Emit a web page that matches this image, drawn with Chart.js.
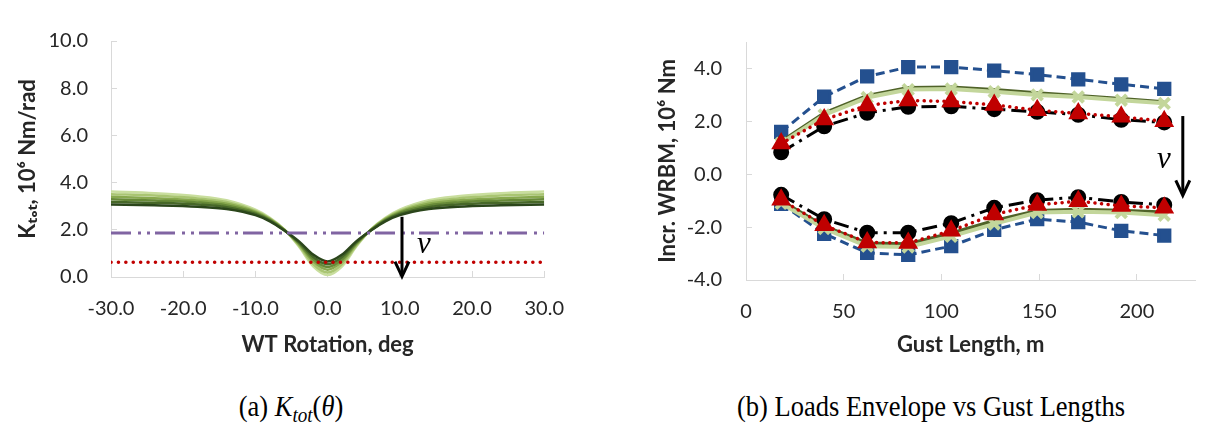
<!DOCTYPE html>
<html>
<head>
<meta charset="utf-8">
<script src="https://cdn.jsdelivr.net/npm/chart.js@4.4.1/dist/chart.umd.min.js"></script>
<style>
  body { margin: 0; background: #fff; width: 1207px; height: 444px; position: relative; overflow: hidden; }
  .panel { position: absolute; top: 0; height: 370px; }
  #left { left: 0; width: 590px; }
  #right { left: 600px; width: 607px; }
  .caption {
    position: absolute; top: 392px; transform: translateX(-50%) scale(1.02, 1.15);
    font-family: "Liberation Serif", "Times New Roman", serif; font-size: 26px; color: #000; white-space: nowrap;
  }
  .caption sub { font-size: 0.72em; vertical-align: -0.3em; }
</style>
</head>
<body>
<div class="panel" id="left"><canvas id="ktot"></canvas></div>
<div class="panel" id="right"><canvas id="wrbm"></canvas></div>
<div class="caption" style="left:291px">(a) <i>K</i><sub><i>tot</i></sub>(<i>θ</i>)</div>
<div class="caption" style="left:931px">(b) Loads Envelope vs Gust Lengths</div>

<script>
// ---- (a) K_tot(theta) ----
const thetaDeg = [-30, -24, -18, -14, -10, -8, -6, -4, -2, 0, 2, 4, 6, 8, 10, 14, 18, 24, 30];
// one curve per nu value, darkest first
const ktotA = [3.07, 3.04, 2.98, 2.88, 2.62, 2.36, 1.97, 1.52, 0.95, 0.66, 0.95, 1.52, 1.97, 2.36, 2.62, 2.88, 2.98, 3.04, 3.07];
const ktotB = [3.18, 3.14, 3.07, 2.96, 2.67, 2.39, 1.98, 1.48, 0.85, 0.54, 0.85, 1.48, 1.98, 2.39, 2.67, 2.96, 3.07, 3.14, 3.18];
const ktotC = [3.29, 3.24, 3.16, 3.03, 2.72, 2.42, 1.99, 1.44, 0.75, 0.42, 0.75, 1.44, 1.99, 2.42, 2.72, 3.03, 3.16, 3.24, 3.29];
const ktotD = [3.40, 3.34, 3.24, 3.10, 2.76, 2.45, 2.00, 1.40, 0.66, 0.31, 0.66, 1.40, 2.00, 2.45, 2.76, 3.10, 3.24, 3.34, 3.40];
const ktotE = [3.51, 3.45, 3.33, 3.18, 2.80, 2.48, 2.01, 1.35, 0.55, 0.19, 0.55, 1.35, 2.01, 2.48, 2.80, 3.18, 3.33, 3.45, 3.51];
const ktotF = [3.62, 3.55, 3.42, 3.25, 2.85, 2.51, 2.02, 1.30, 0.45, 0.08, 0.45, 1.30, 2.02, 2.51, 2.85, 3.25, 3.42, 3.55, 3.62];
const ktotCurves = [ktotA, ktotB, ktotC, ktotD, ktotE, ktotF];
const greenShades = ['#2b461b', '#476828', '#678a38', '#88a94e', '#a9c572', '#c9de9e'];
const thetaEnds = [-30, 30];
const kRefLevel = 1.86;   // dash-dot purple
const kLowLevel = 0.63;   // dotted red

// ---- (b) loads envelope ----
const gustLength = [18, 40, 62, 83, 105, 127, 149, 170, 192, 214];
const bluePos  = [1.60, 2.93, 3.70, 4.05, 4.05, 3.92, 3.77, 3.59, 3.40, 3.23];
const blueNeg  = [-1.12, -2.25, -2.97, -3.05, -2.72, -2.10, -1.70, -1.81, -2.14, -2.32];
const gDarkPos = [1.25, 2.32, 2.98, 3.28, 3.30, 3.20, 3.08, 2.98, 2.86, 2.74];
const gMidPos  = [1.21, 2.28, 2.94, 3.24, 3.26, 3.16, 3.04, 2.95, 2.83, 2.71];
const gLightPos = [1.17, 2.24, 2.90, 3.20, 3.22, 3.12, 3.00, 2.92, 2.80, 2.68];
const gDarkNeg = [-1.00, -1.95, -2.60, -2.63, -2.22, -1.75, -1.37, -1.32, -1.36, -1.43];
const gMidNeg  = [-1.05, -2.00, -2.66, -2.69, -2.28, -1.81, -1.41, -1.37, -1.40, -1.49];
const gLightNeg = [-1.10, -2.05, -2.72, -2.75, -2.35, -1.88, -1.45, -1.42, -1.45, -1.55];
const redPos   = [1.16, 2.07, 2.60, 2.79, 2.75, 2.62, 2.42, 2.30, 2.17, 2.00];
const redNeg   = [-0.97, -1.93, -2.58, -2.60, -2.14, -1.52, -1.16, -1.02, -1.20, -1.27];
const blackPos = [0.83, 1.81, 2.32, 2.55, 2.57, 2.46, 2.36, 2.25, 2.06, 1.96];
const blackNeg = [-0.78, -1.70, -2.21, -2.21, -1.85, -1.27, -0.98, -0.87, -1.05, -1.16];

const FONT = 'Lato, "Open Sans", sans-serif';
const AXIS = '#d9d9d9';
const TEXT = '#262626';

function pts(xs, ys) {
    return xs.map((x, i) => ({ x: x, y: ys[i] }));
}

// draws the nu arrow and its label in data coordinates
const nuArrow = {
    id: 'nuArrow',
    afterDatasetsDraw(chart, args, opts) {
        const { ctx } = chart;
        const xs = chart.scales.x, ys = chart.scales.y;
        const px = xs.getPixelForValue(opts.x);
        const top = ys.getPixelForValue(opts.from);
        const tip = ys.getPixelForValue(opts.to);
        ctx.save();
        ctx.strokeStyle = '#000';
        ctx.lineWidth = 3;
        ctx.beginPath();
        ctx.moveTo(px, top);
        ctx.lineTo(px, tip - 1);
        ctx.stroke();
        ctx.beginPath();
        ctx.moveTo(px - 7, tip - 15);
        ctx.lineTo(px, tip);
        ctx.lineTo(px + 7, tip - 15);
        ctx.stroke();
        ctx.fillStyle = '#000';
        ctx.font = 'italic 31px "Liberation Serif", serif';
        ctx.textAlign = 'center';
        ctx.textBaseline = 'middle';
        ctx.fillText('ν', px + opts.labelDx, ys.getPixelForValue(opts.labelY));
        ctx.restore();
    }
};

function axis(extra) {
    return Object.assign({
        type: 'linear',
        border: { display: true, color: AXIS, width: 1 },
        grid: { display: true, drawOnChartArea: false, drawTicks: true, tickLength: -6, color: AXIS },
    }, extra);
}

function tickFont() {
    return { family: FONT, size: 20 };
}
function titleFont() {
    return { family: FONT, size: 22, weight: 'bold' };
}

const ktotDatasets = ktotCurves.map((curve, i) => ({
    data: pts(thetaDeg, curve),
    borderColor: greenShades[i],
    borderWidth: 2.5,
    pointRadius: 0,
    cubicInterpolationMode: 'monotone',
    order: 10 + i,
}));
ktotDatasets.push({
    data: pts(thetaEnds, [kRefLevel, kRefLevel]),
    borderColor: '#8064a2',
    borderWidth: 3,
    borderDash: [20, 7, 3, 6, 3, 5],
    pointRadius: 0,
    order: 2,
});
ktotDatasets.push({
    data: pts(thetaEnds, [kLowLevel, kLowLevel]),
    borderColor: '#c00000',
    borderWidth: 3.5,
    borderCapStyle: 'round',
    borderDash: [0.1, 7.3],
    pointRadius: 0,
    order: 1,
});

new Chart(document.getElementById('ktot'), {
    type: 'line',
    data: { datasets: ktotDatasets },
    plugins: [nuArrow],
    options: {
        responsive: true,
        maintainAspectRatio: false,
        devicePixelRatio: 1,
        animation: false,
        layout: { padding: { top: 30, right: 37, left: 0, bottom: 0 } },
        plugins: {
            legend: { display: false },
            tooltip: { enabled: false },
            nuArrow: { x: 10.3, from: 2.55, to: 0.02, labelY: 1.38, labelDx: 22 },
        },
        scales: {
            x: axis({
                position: 'bottom',
                min: -30, max: 30,
                ticks: { stepSize: 10, font: tickFont(), color: TEXT, padding: 26, callback: (v) => v.toFixed(1) },
                title: { display: true, text: 'WT Rotation, deg', font: titleFont(), color: TEXT, padding: { top: 0, bottom: 12 } },
                afterFit: (s) => { s.height = 93; },
            }),
            y: axis({
                position: 'left',
                min: 0, max: 10,
                ticks: { stepSize: 2, font: tickFont(), color: TEXT, padding: 29, callback: (v) => v.toFixed(1) },
                title: { display: true, text: 'Kₜₒₜ, 10⁶ Nm/rad', font: titleFont(), color: TEXT, padding: { top: 15, bottom: 0 } },
                afterFit: (s) => { s.width = 111; },
            }),
        },
    },
});

// ---- (b) ----
const BLUE = '#24508f';
const RED = '#c00000';
const GREEN_LIGHT = '#c3d69b';

function blueSet(ys) {
    return {
        data: pts(gustLength, ys), borderColor: BLUE, borderWidth: 3, borderDash: [9, 5],
        pointStyle: 'rect', pointRadius: 8, pointBackgroundColor: BLUE, pointBorderColor: BLUE, order: 5,
    };
}
function greenSet(ys, color, withMarker) {
    return {
        data: pts(gustLength, ys), borderColor: color, borderWidth: withMarker ? 4 : 3,
        pointStyle: 'crossRot', pointRadius: withMarker ? 7.5 : 0, pointBorderWidth: 4,
        pointBorderColor: GREEN_LIGHT, pointBackgroundColor: GREEN_LIGHT, order: withMarker ? 3 : 4,
    };
}
function redSet(ys) {
    return {
        data: pts(gustLength, ys), borderColor: RED, borderWidth: 3.5, borderCapStyle: 'round', borderDash: [0.1, 6.5],
        pointStyle: 'triangle', pointRadius: 8, pointBackgroundColor: RED, pointBorderColor: RED, order: 1,
    };
}
function blackSet(ys) {
    return {
        data: pts(gustLength, ys), borderColor: '#000', borderWidth: 3, borderDash: [15, 6, 3, 6],
        pointStyle: 'circle', pointRadius: 6.5, pointBackgroundColor: '#000', pointBorderColor: '#000', order: 2,
    };
}

new Chart(document.getElementById('wrbm'), {
    type: 'line',
    data: {
        datasets: [
            blueSet(bluePos), blueSet(blueNeg),
            greenSet(gDarkPos, '#4f6228', false), greenSet(gMidPos, '#77933c', false), greenSet(gLightPos, GREEN_LIGHT, true),
            greenSet(gDarkNeg, '#4f6228', false), greenSet(gMidNeg, '#77933c', false), greenSet(gLightNeg, GREEN_LIGHT, true),
            blackSet(blackPos), blackSet(blackNeg),
            redSet(redPos), redSet(redNeg),
        ],
    },
    plugins: [nuArrow],
    options: {
        responsive: true,
        maintainAspectRatio: false,
        devicePixelRatio: 1,
        animation: false,
        layout: { padding: { top: 33, right: 10, left: 0, bottom: 0 } },
        plugins: {
            legend: { display: false },
            tooltip: { enabled: false },
            nuArrow: { x: 223.5, from: 2.2, to: -0.8, labelY: 0.55, labelDx: -19 },
        },
        scales: {
            x: axis({
                position: 'bottom',
                min: 0, max: 230,
                ticks: { stepSize: 50, font: tickFont(), color: TEXT, padding: 26 },
                afterBuildTicks: (s) => { s.ticks = s.ticks.filter((t) => t.value % 50 === 0); },
                title: { display: true, text: 'Gust Length, m', font: titleFont(), color: TEXT, padding: { top: 0, bottom: 12 } },
                afterFit: (s) => { s.height = 90; },
            }),
            y: axis({
                position: 'left',
                min: -4, max: 5,
                ticks: { stepSize: 2, font: tickFont(), color: TEXT, padding: 30, callback: (v) => v.toFixed(1) },
                afterBuildTicks: (s) => { s.ticks = s.ticks.filter((t) => Math.abs(t.value % 2) < 1e-9); },
                title: { display: true, text: 'Incr. WRBM, 10⁶ Nm', font: titleFont(), color: TEXT, padding: { top: 55, bottom: 0 } },
                afterFit: (s) => { s.width = 146; },
            }),
        },
    },
});
</script>
</body>
</html>
